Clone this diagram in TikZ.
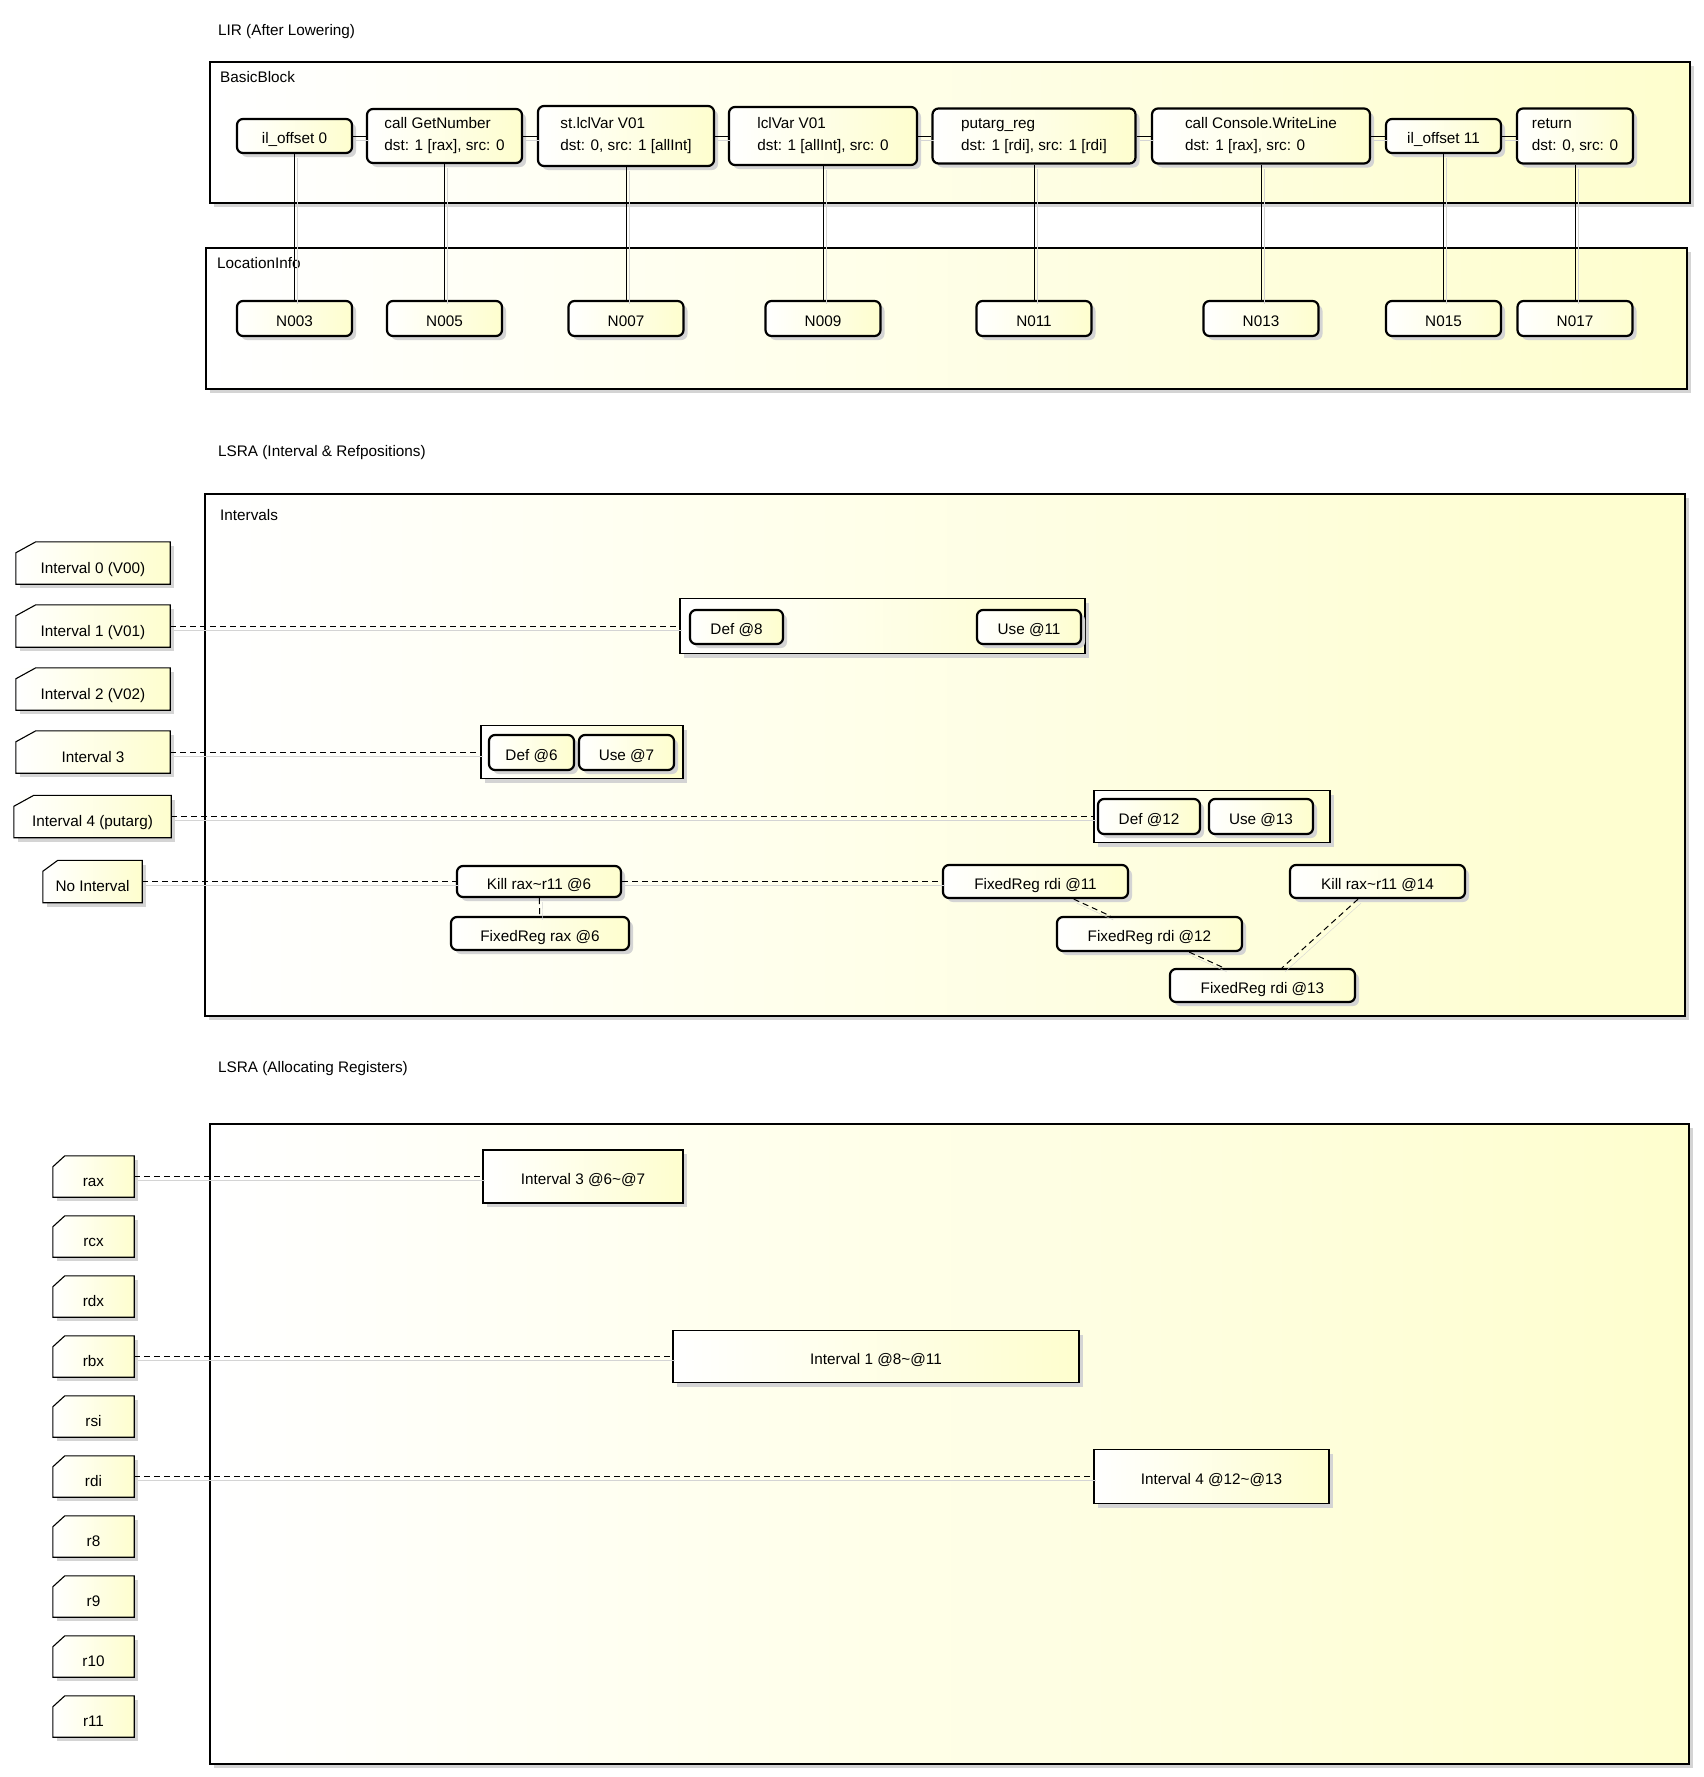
\documentclass[tikz,border=0pt]{standalone}
\usepackage{fontspec}
\setmainfont{Liberation Sans}
\usetikzlibrary{positioning,shadows}
\definecolor{umlyellow}{HTML}{FEFECE}
\definecolor{shadowgray}{HTML}{D4D4D4}

% outline of a card with its top left corner cut off
\newcommand{\cardedge}[2]{%
  \draw[line width=1.1pt] ([yshift=-11pt]#1.north west) -- ([xshift=#2]#1.north west)
    -- (#1.north east) -- (#1.south east) -- (#1.south west) -- cycle;}

\begin{document}
\begin{tikzpicture}[
  x=1pt, y=-1pt,
  font=\fontsize{15.3}{22}\selectfont,
  boxshadow/.style={drop shadow={shadow xshift=4pt, shadow yshift=-4pt, fill=shadowgray, opacity=1}},
  umlfill/.style={left color=white, right color=umlyellow},
  oneline/.style={text height=15pt, text depth=0pt},
  title/.style={anchor=base west, inner sep=0pt},
  frame/.style={draw, line width=1.1pt, umlfill, boxshadow, inner sep=0pt},
  lirnode/.style={draw, line width=2.2pt, rounded corners=6pt, umlfill, boxshadow, align=left, inner sep=0pt, minimum height=34pt},
  locnode/.style={lirnode, oneline, minimum width=115pt, minimum height=35pt},
  refnode/.style={lirnode, oneline, minimum height=34pt},
  rangebox/.style={draw, line width=1.1pt, umlfill, boxshadow, inner sep=0pt},
  ivcard/.style={umlfill, boxshadow, inner sep=0pt, minimum height=42pt, text height=20pt, text depth=0pt},
  regcard/.style={ivcard, minimum width=81pt, minimum height=41pt},
  allocbox/.style={draw, line width=1.1pt, umlfill, boxshadow, oneline, inner sep=0pt},
  link/.style={line width=1pt, preaction={draw=shadowgray, solid, transform canvas={shift={(3pt,-4pt)}}}},
  dashlink/.style={link, dash pattern=on 6pt off 4pt}
]
  \useasboundingbox (0,0) rectangle (1704,1777);

  % titles
  \node[title] (lirtitle) at (218,36) {LIR (After Lowering)};
  \node[title] (lsratitle) at (218,456) {LSRA (Interval \& Refpositions)};
  \node[title] (alloctitle) at (218,1072) {LSRA (Allocating Registers)};

  % frames
  \node[frame, minimum width=1480pt, minimum height=141pt] (bbframe) at (950,132.5) {};
  \node[frame, minimum width=1481pt, minimum height=141pt] (locframe) at (946.5,318.5) {};
  \node[frame, minimum width=1480pt, minimum height=522pt] (ivframe) at (945,755) {};
  \node[frame, minimum width=1479pt, minimum height=640pt] (allocframe) at (949.5,1444) {};
  \node[title] (bblabel) at (220,82.5) {BasicBlock};
  \node[title] (loclabel) at (217,268) {LocationInfo};
  \node[title] (ivlabel) at (220,520) {Intervals};

  % LIR
  \node[lirnode, oneline, minimum width=115pt] (offset0) at (294.5,136) {il\_offset 0};
  \node[lirnode, minimum width=155pt, minimum height=54pt] (getnum) at (444.5,136) {call GetNumber\\dst: 1 [rax], src: 0};
  \node[lirnode, minimum width=176pt, minimum height=60pt] (stlcl) at (626,136) {st.lclVar V01\\dst: 0, src: 1 [allInt]};
  \node[lirnode, minimum width=188pt, minimum height=58pt] (lcl) at (823,136) {lclVar V01\\dst: 1 [allInt], src: 0};
  \node[lirnode, minimum width=203pt, minimum height=55pt] (putarg) at (1034,136) {putarg\_reg\\dst: 1 [rdi], src: 1 [rdi]};
  \node[lirnode, minimum width=218pt, minimum height=55pt] (writeln) at (1261,136) {call Console.WriteLine\\dst: 1 [rax], src: 0};
  \node[lirnode, oneline, minimum width=115pt] (offset11) at (1443.5,136) {il\_offset 11};
  \node[lirnode, minimum width=116pt, minimum height=55pt] (ret) at (1575,136) {return\\dst: 0, src: 0};

  \foreach \n/\x in {003/294.5, 005/444.5, 007/626, 009/823, 011/1034, 013/1261, 015/1443.5, 017/1575}
    \node[locnode] (n\n) at (\x,318.5) {N\n};

  \draw[link] (offset0) -- (getnum) -- (stlcl) -- (lcl) -- (putarg) -- (writeln) -- (offset11) -- (ret);
  \foreach \a/\b in {offset0/n003, getnum/n005, stlcl/n007, lcl/n009, putarg/n011, writeln/n013, offset11/n015, ret/n017}
    \draw[link] (\a) -- (\b);

  % intervals and refpositions
  \node[ivcard, minimum width=154pt] (iv0) at (93,563) {Interval 0 (V00)};
  \node[ivcard, minimum width=154pt] (iv1) at (93,626) {Interval 1 (V01)};
  \node[ivcard, minimum width=154pt] (iv2) at (93,689) {Interval 2 (V02)};
  \node[ivcard, minimum width=154pt] (iv3) at (93,752) {Interval 3};
  \node[ivcard, minimum width=157pt] (iv4) at (92.5,816.5) {Interval 4 (putarg)};
  \node[ivcard, minimum width=99pt] (noiv) at (92.5,881.5) {No Interval};
  \foreach \c in {iv0,iv1,iv2,iv3,iv4} \cardedge{\c}{20pt};
  \cardedge{noiv}{15pt}

  \node[rangebox, minimum width=405pt, minimum height=55pt] (range1) at (882.5,626) {};
  \node[refnode, minimum width=93pt] (def8) at (736.5,627) {Def @8};
  \node[refnode, minimum width=104pt] (use11) at (1029,627) {Use @11};
  \node[rangebox, minimum width=202pt, minimum height=53pt] (range3) at (582,752) {};
  \node[refnode, minimum width=85pt, minimum height=35pt] (def6) at (531.5,752.5) {Def @6};
  \node[refnode, minimum width=95pt, minimum height=35pt] (use7) at (626.5,752.5) {Use @7};
  \node[rangebox, minimum width=236pt, minimum height=52pt] (range4) at (1212,816.5) {};
  \node[refnode, minimum width=102pt, minimum height=35pt] (def12) at (1149,816.5) {Def @12};
  \node[refnode, minimum width=104pt, minimum height=35pt] (use13) at (1261,816.5) {Use @13};

  \node[refnode, minimum width=164pt, minimum height=31pt] (kill6) at (539,881.5) {Kill rax\textasciitilde r11 @6};
  \node[refnode, minimum width=178pt, minimum height=33pt] (fixrax6) at (540,933.5) {FixedReg rax @6};
  \node[refnode, minimum width=185pt, minimum height=33pt] (fixrdi11) at (1035.5,881.5) {FixedReg rdi @11};
  \node[refnode, minimum width=185pt, minimum height=34pt] (fixrdi12) at (1149.5,934) {FixedReg rdi @12};
  \node[refnode, minimum width=185pt, minimum height=33pt] (fixrdi13) at (1262.5,985.5) {FixedReg rdi @13};
  \node[refnode, minimum width=175pt, minimum height=33pt] (kill14) at (1377.5,881.5) {Kill rax\textasciitilde r11 @14};

  \draw[dashlink] (iv1) -- (range1);
  \draw[dashlink] (iv3) -- (range3);
  \draw[dashlink] (iv4) -- (range4);
  \draw[dashlink] (noiv) -- (kill6) -- (fixrdi11);
  \draw[dashlink] (kill6) -- (fixrax6);
  \draw[dashlink] (fixrdi11) -- (fixrdi12);
  \draw[dashlink] (fixrdi12) -- (fixrdi13);
  \draw[dashlink] (kill14) -- (fixrdi13);

  % register allocation
  \foreach \r [count=\i from 0] in {rax,rcx,rdx,rbx,rsi,rdi,r8,r9,r10,r11} {
    \node[regcard] (reg-\r) at (93.5,{1176.5+60*\i}) {\r};
    \cardedge{reg-\r}{12pt}
  }
  \node[allocbox, minimum width=200pt, minimum height=53pt] (alloc3) at (583,1176.5) {Interval 3 @6\textasciitilde @7};
  \node[allocbox, minimum width=406pt, minimum height=52pt] (alloc1) at (876,1356.5) {Interval 1 @8\textasciitilde @11};
  \node[allocbox, minimum width=235pt, minimum height=54pt] (alloc4) at (1211.5,1476.5) {Interval 4 @12\textasciitilde @13};
  \draw[dashlink] (reg-rax) -- (alloc3);
  \draw[dashlink] (reg-rbx) -- (alloc1);
  \draw[dashlink] (reg-rdi) -- (alloc4);
\end{tikzpicture}
\end{document}
